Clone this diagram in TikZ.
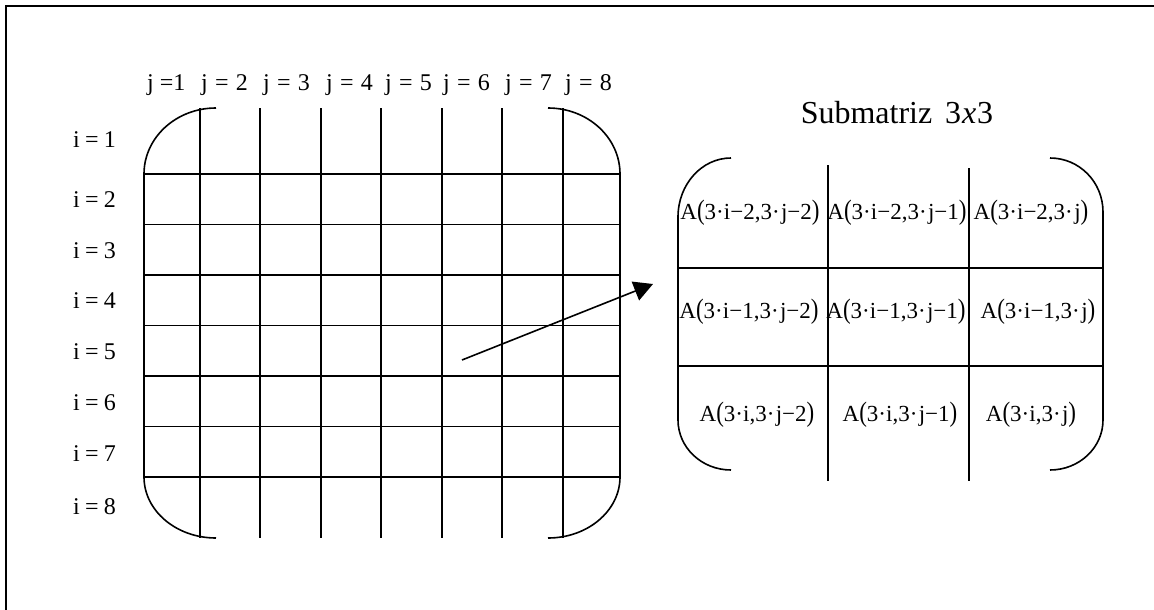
\documentclass[tikz,border=0pt]{standalone}
\usepackage{fontspec}
\usepackage{graphicx}
\setmainfont{Liberation Serif}
\usetikzlibrary{arrows.meta}
\newcommand\lpar{\scalebox{1}[1.22]{(}}
\newcommand\rpar{\scalebox{1}[1.22]{)}}
\newcommand\mdot{·}
\newcommand\mminus{−}
\newcommand\eqs{\hspace{0.22em}=\hspace{0.22em}}
\newcommand\eqj{\hspace{0.3em}=\hspace{0.3em}}
\tikzset{
  ln/.style={line width=1.6pt},
  framestyle/.style={line width=2.2pt},
  lbl/.style={inner sep=0pt, font=\fontsize{24}{28}\selectfont, anchor=base west},
  cell/.style={inner sep=0pt, font=\fontsize{23}{27}\selectfont, anchor=center},
  ttl/.style={inner sep=0pt, font=\fontsize{32}{36}\selectfont, anchor=base},
  arr/.style={line width=1.6pt, -{Triangle[length=19pt,width=20pt]}},
}
\begin{document}
\begin{tikzpicture}[x=1pt,y=-1pt]
\useasboundingbox (0,0) rectangle (1154,610);
% outer frame (only top and left visible)
\draw[framestyle] (6,625) -- (6,6) -- (1170,6);

% big matrix grid
\foreach \x in {200,260,321,381,442,502,563} \draw[ln] (\x,108) -- (\x,538);
\foreach \y in {174,224.5,275,325.5,376,426.5,477} \draw[ln] (144,\y) -- (620,\y);
\draw[ln] (216,108) .. controls (176.2,108) and (144,137.5) .. (144,174) -- (144,477)
  .. controls (144,510.7) and (176.2,538) .. (216,538);
\draw[ln] (548,108) .. controls (587.8,108) and (620,137.5) .. (620,174) -- (620,477)
  .. controls (620,510.7) and (587.8,538) .. (548,538);

% column labels
\node[lbl] (j1) at (147,90) {j\hspace{0.25em}=1};
\node[lbl] (j2) at (201,90) {j\eqj 2};
\node[lbl] (j3) at (263,90) {j\eqj 3};
\node[lbl] (j4) at (326,90) {j\eqj 4};
\node[lbl] (j5) at (385,90) {j\eqj 5};
\node[lbl] (j6) at (443,90) {j\eqj 6};
\node[lbl] (j7) at (505,90) {j\eqj 7};
\node[lbl] (j8) at (565,90) {j\eqj 8};

% row labels
\node[lbl] (i1) at (73,147) {i\eqs 1};
\node[lbl] (i2) at (73,207) {i\eqs 2};
\node[lbl] (i3) at (73,258) {i\eqs 3};
\node[lbl] (i4) at (73,308) {i\eqs 4};
\node[lbl] (i5) at (73,359) {i\eqs 5};
\node[lbl] (i6) at (73,410) {i\eqs 6};
\node[lbl] (i7) at (73,461) {i\eqs 7};
\node[lbl] (i8) at (73,514) {i\eqs 8};

% submatrix title
\node[ttl] (title) at (897,123) {Submatriz\hspace{0.4em}3\kern0.03em\textit{x}\kern0.03em3};

% submatrix frame
\draw[ln] (731,158) .. controls (701.7,158) and (678,184.4) .. (678,217) -- (678,420)
  .. controls (678,447.6) and (701.7,470) .. (731,470);
\draw[ln] (1050,158) .. controls (1079.3,158) and (1103,182) .. (1103,212) -- (1103,420)
  .. controls (1103,447.6) and (1079.3,470) .. (1050,470);
\draw[ln] (678,268) -- (1103,268);
\draw[ln] (678,366) -- (1103,366);
\draw[ln] (828,165) -- (828,481);
\draw[ln] (969,168) -- (969,481);

% submatrix cells
\node[cell] (c11) at (750,213) {A\lpar 3\mdot i\mminus 2,3\mdot\kern0.06em j\mminus 2\rpar};
\node[cell] (c12) at (897,213) {A\lpar 3\mdot i\mminus 2,3\mdot\kern0.06em j\mminus 1\rpar};
\node[cell] (c13) at (1031,213) {A\lpar 3\mdot i\mminus 2,3\mdot\kern0.06em j\rpar};
\node[cell] (c21) at (749,312) {A\lpar 3\mdot i\mminus 1,3\mdot\kern0.06em j\mminus 2\rpar};
\node[cell] (c22) at (896,312) {A\lpar 3\mdot i\mminus 1,3\mdot\kern0.06em j\mminus 1\rpar};
\node[cell] (c23) at (1038,312) {A\lpar 3\mdot i\mminus 1,3\mdot\kern0.06em j\rpar};
\node[cell] (c31) at (757,415) {A\lpar 3\mdot i,3\mdot\kern0.06em j\mminus 2\rpar};
\node[cell] (c32) at (900,415) {A\lpar 3\mdot i,3\mdot\kern0.06em j\mminus 1\rpar};
\node[cell] (c33) at (1031,415) {A\lpar 3\mdot i,3\mdot\kern0.06em j\rpar};

% arrow
\coordinate (arrfrom) at (462,360);
\coordinate (arrto) at (653,284);
\draw[arr] (arrfrom) -- (arrto);
\end{tikzpicture}
\end{document}
